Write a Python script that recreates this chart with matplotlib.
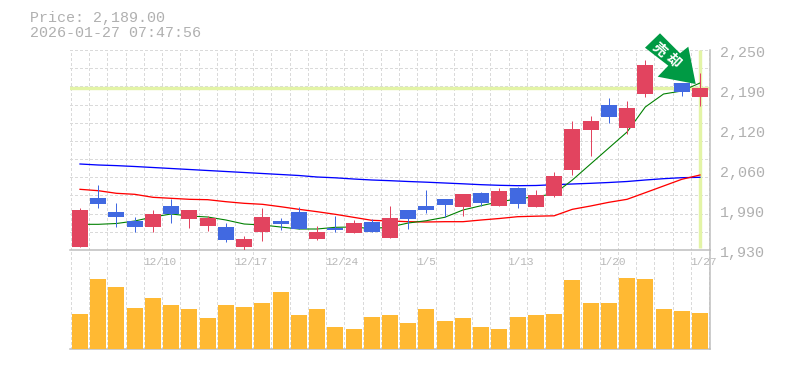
import matplotlib
matplotlib.use("Agg")
import matplotlib.pyplot as plt
from matplotlib.patches import Polygon

opens  = [1934.8,2013.2,1990.8,1976.4,1966.8,2000.4,1979.6,1968.4,1966.8,1934.8,1958.8,1976.4,1990.8,1947.6,1965.2,1957.2,1974.8,1949.2,1994,2000.4,2011.6,1998.8,2021.2,2000.4,2029.2,1998.8,2016.4,2058,2122,2162,2125.2,2179.6,2250,2197.2,2174.8]
closes = [1994,2003.6,1982.8,1966.8,1987.6,1987.6,1994,1981.2,1946,1947.6,1982.8,1971.6,1963.6,1958.8,1962,1973.2,1958.8,1981.2,1979.6,1994,2002,2019.6,2005.2,2024.4,2003.6,2018,2048.4,2123.6,2136.4,2142.8,2157.2,2226,2242,2182.8,2189.2]
highs  = [1997.7,2034,2005.2,1982.8,1994,2011.6,1994,1984.4,1973.2,1952.4,1997.2,1981.2,1998.8,1968.4,1984.4,1978,1979.6,2000.4,1994,2026,2011.6,2019.6,2022.8,2029.2,2030.8,2026,2054.8,2136.4,2144.4,2173.2,2168.4,2234,2250,2197.2,2213.2]
lows   = [1934.8,1997.7,1966.8,1958.8,1958.8,1973.2,1965.2,1960.4,1942.8,1930,1944.4,1962,1963.6,1946,1958.8,1957.2,1958.8,1949.2,1963.6,1989.2,1982.8,1984.4,2000.4,2000.4,1997.2,1998.8,2014.8,2050,2080.4,2133.2,2115.6,2174.8,2242,2176.4,2160.4]
ma_short = [1971.1,1971.1,1972.4,1976.4,1982.8,1987.6,1984.4,1982.8,1978,1971.6,1970,1966.8,1963.6,1963.6,1966.3,1966.8,1964.2,1966.8,1973.2,1976.9,1982.3,1994,2000.9,2007.3,2011.6,2015.6,2019.6,2042,2067.6,2093.2,2118.8,2158.8,2179.6,2184.4,2197.2]
ma_mid = [2027.1,2024.9,2020.7,2019.1,2014.3,2012.7,2011.1,2010.5,2007.3,2004.7,2003.1,1999.3,1995.1,1991.3,1987.1,1982.3,1977.5,1976.4,1975.3,1974.8,1975.3,1975.3,1978,1980.4,1983.3,1984.1,1984.7,1995.1,2000.4,2006.3,2011.1,2021.7,2032.4,2043.1,2050]
ma_long = [2067.6,2066,2065,2063.6,2062,2060.4,2058.8,2057.2,2055.6,2054,2052.4,2050.8,2049.2,2046.8,2045.5,2043.6,2042,2040.9,2039.6,2038.5,2037.2,2035.9,2034.5,2033.5,2032.9,2033.2,2034.5,2035.6,2036.7,2038,2039.6,2042,2044.1,2045.7,2046.3]
volumes = [35,70,62,41,51,44,40,31,44,42,46,57,34,40,22,20,32,34,26,40,28,31,22,20,32,34,35,69,46,46,71,70,40,38,36]
date_idx = [4,9,14,19,24,29,34]
date_labels = ["12/10","12/17","12/24","1/5","1/13","1/20","1/27"]
price_ticks = [2250,2186,2122,2058,1994,1930]
price_labels = ["2,250","2,190","2,120","2,060","1,990","1,930"]
last_price = 2189
title_lines = ["Price: 2,189.00","2026-01-27 07:47:56"]
sign_chars = ["売","却"]

W,H = 785,370
fig = plt.figure(figsize=(W/100,H/100),dpi=100,facecolor="white")
def rect(l,t,r,b): return [l/W,1-b/H,(r-l)/W,(b-t)/H]
def fx(x,y): return (x/W,1-y/H)
ax = fig.add_axes(rect(70,50,710,250))
axv = fig.add_axes(rect(70,250,710,349))
axv.patch.set_visible(False)
n = len(closes)
step = 620/34
xlim = ((70-80)/step,(710-80)/step)
PX = 0.72
GRAY="#bdbdbd"; GRID="#dadada"
for a in (ax,axv):
    a.set_xlim(*xlim)
    a.set_xticks([i-0.5 for i in range(n)]+[n-0.5])
    a.tick_params(length=0,labelbottom=False,labelleft=False)
    a.grid(True,axis="x",color=GRID,lw=PX*0.9,ls=(0,(3,3)),zorder=0,antialiased=False)
    a.set_axisbelow(True)
    for s in ("top","left"): a.spines[s].set_visible(False)
    for s in ("bottom","right"):
        a.spines[s].set_color(GRAY); a.spines[s].set_linewidth(PX*1.5)
ax.set_ylim(1930,2250)
ax.set_yticks([1930+320/11*k for k in range(12)])
ax.grid(True,axis="y",color=GRID,lw=PX*0.9,ls=(0,(3,3)),zorder=0,antialiased=False)

ax.axhline(last_price,xmax=(708-70)/640,color="#e3f4a6",lw=PX*3.4,zorder=1)
ax.plot([n-1,n-1],[1933,2250],color="#e3f4a6",lw=PX*3.4,zorder=1,solid_capstyle="butt")

xs = list(range(n))
ax.plot(xs,ma_long,color="#0000ff",lw=PX*1.3,zorder=2)
ax.plot(xs,ma_mid,color="#ff0000",lw=PX*1.3,zorder=2)
ax.plot(xs,ma_short,color="#008000",lw=PX*1.1,zorder=2)

UP="#e2445f"; DOWN="#4169e1"
w = 16/step
for i in xs:
    c = UP if closes[i]>=opens[i] else DOWN
    ax.plot([i,i],[lows[i],highs[i]],color=c,lw=PX*1.0,zorder=3,solid_capstyle="butt")
    ax.bar(i,abs(closes[i]-opens[i]),bottom=min(opens[i],closes[i]),width=w,color=c,lw=0,zorder=4)
axv.bar(xs,volumes,width=w,color="#ffb933",lw=0,zorder=3)
axv.set_ylim(-0.5,98.5)

for i,lab in zip(date_idx,date_labels):
    ax.annotate(lab,xy=(i-0.5,0),xycoords=ax.get_xaxis_transform(),xytext=(-1*PX,-11.7*PX),
                textcoords="offset points",ha="left",va="center",color="#b8b8b8",
                family="Liberation Mono",fontsize=8,zorder=6,annotation_clip=False)
for v,lab in zip(price_ticks,price_labels):
    ax.annotate(lab,xy=(1,v),xycoords=ax.get_yaxis_transform(),xytext=(10*PX,-3*PX),
                textcoords="offset points",ha="left",va="center",color="#b0b0b0",
                family="Liberation Mono",fontsize=10.8,annotation_clip=False)
for t,yy in zip(title_lines,(18,33)):
    fig.text(*fx(29.5,yy),t,ha="left",va="center",color="#b0b0b0",family="Liberation Mono",fontsize=10.8)

arrow_px = [(660,33.3),(680,53.3),(688.3,46.7),(695.7,84),(657.7,76.7),(668.3,65.7),(645,47.7)]
fig.add_artist(Polygon([fx(*p) for p in arrow_px],closed=True,transform=fig.transFigure,
                       facecolor="#009a44",edgecolor="none",zorder=10))
for ch,(x,y) in zip(sign_chars,[(659.5,49.5),(673,61)]):
    fig.text(*fx(x,y),ch,rotation=-42,ha="center",va="center",color="white",
             family="Noto Sans CJK JP",fontweight="bold",fontsize=10,zorder=11)
fig.savefig("out.png",dpi=100)
